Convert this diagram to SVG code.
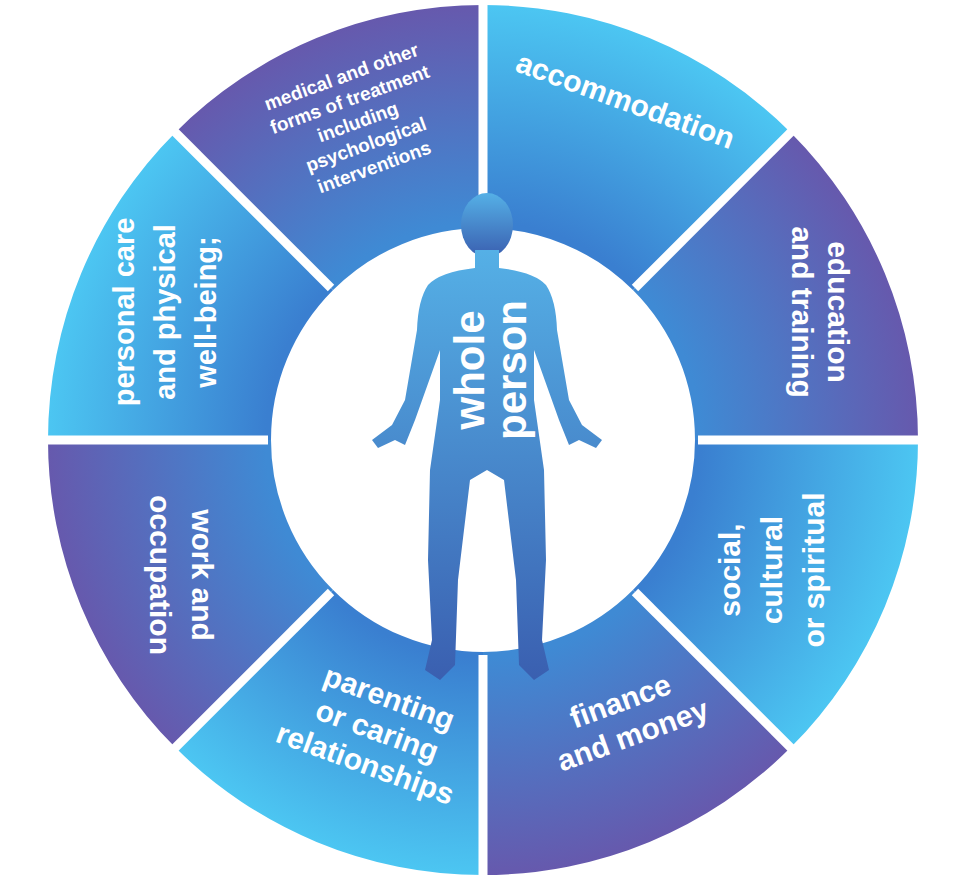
<svg xmlns="http://www.w3.org/2000/svg" width="959" height="894" viewBox="0 0 959 894">
<defs>
<radialGradient id="gl" gradientUnits="userSpaceOnUse" cx="483" cy="440" r="435"><stop offset="0.5" stop-color="#3a7fd0"/><stop offset="1" stop-color="#4cc6f2"/></radialGradient>
<radialGradient id="gd" gradientUnits="userSpaceOnUse" cx="483" cy="440" r="435"><stop offset="0.5" stop-color="#3f8ad4"/><stop offset="1" stop-color="#6659ad"/></radialGradient>
<linearGradient id="gb" x1="0" y1="0" x2="0" y2="1"><stop offset="0" stop-color="#55b0e6"/><stop offset="1" stop-color="#3a5fb0"/></linearGradient>
</defs>
<style>
.t{font-family:"Liberation Sans",Arial,sans-serif;font-weight:bold;fill:#fff;font-size:30px;text-anchor:middle}
.s{font-size:19px}
.sep{stroke:#fff;stroke-width:9}
</style>
<rect width="959" height="894" fill="#fff"/>
<g id="seg-medical"><path d="M175.4,132.4 A435,435 0 0 1 483,5 L483,228 A212,212 0 0 0 333.1,290.1 Z" fill="url(#gd)"/>
<text class="t s" transform="translate(360,128) rotate(-20)"><tspan x="0" y="-48">medical and other</tspan><tspan x="0" y="-24">forms of treatment</tspan><tspan x="0" y="0">including</tspan><tspan x="0" y="24">psychological</tspan><tspan x="0" y="48">interventions</tspan></text></g>
<g id="seg-accommodation"><path d="M483,5 A435,435 0 0 1 790.6,132.4 L632.9,290.1 A212,212 0 0 0 483,228 Z" fill="url(#gl)"/>
<text class="t" transform="translate(622,110) rotate(20)">accommodation</text></g>
<g id="seg-education"><path d="M790.6,132.4 A435,435 0 0 1 918,440 L695,440 A212,212 0 0 0 632.9,290.1 Z" fill="url(#gd)"/>
<text class="t" transform="translate(810,312) rotate(90)"><tspan x="0" y="-18">education</tspan><tspan x="0" y="18">and training</tspan></text></g>
<g id="seg-social"><path d="M918,440 A435,435 0 0 1 790.6,747.6 L632.9,589.9 A212,212 0 0 0 695,440 Z" fill="url(#gl)"/>
<text class="t" transform="translate(770,570) rotate(-90)"><tspan x="0" y="-30">social,</tspan><tspan x="0" y="12">cultural</tspan><tspan x="0" y="54">or spiritual</tspan></text></g>
<g id="seg-finance"><path d="M790.6,747.6 A435,435 0 0 1 483,875 L483,652 A212,212 0 0 0 632.9,589.9 Z" fill="url(#gd)"/>
<text class="t" transform="translate(628,722) rotate(-20)"><tspan x="0" y="-12">finance</tspan><tspan x="0" y="24">and money</tspan></text></g>
<g id="seg-parenting"><path d="M483,875 A435,435 0 0 1 175.4,747.6 L333.1,589.9 A212,212 0 0 0 483,652 Z" fill="url(#gl)"/>
<text class="t" transform="translate(372,745) rotate(20)"><tspan x="0" y="-40">parenting</tspan><tspan x="0" y="-5">or caring</tspan><tspan x="0" y="30">relationships</tspan></text></g>
<g id="seg-work"><path d="M175.4,747.6 A435,435 0 0 1 48,440 L271,440 A212,212 0 0 0 333.1,589.9 Z" fill="url(#gd)"/>
<text class="t" transform="translate(170,575) rotate(90)"><tspan x="0" y="-22">work and</tspan><tspan x="0" y="20">occupation</tspan></text></g>
<g id="seg-personal"><path d="M48,440 A435,435 0 0 1 175.4,132.4 L333.1,290.1 A212,212 0 0 0 271,440 Z" fill="url(#gl)"/>
<text class="t" style="font-size:29px" transform="translate(170,312) rotate(-90)"><tspan x="0" y="-36">personal care</tspan><tspan x="0" y="5">and physical</tspan><tspan x="0" y="46">well-being;</tspan></text></g>
<g id="connectors">
<line class="sep" x1="483" y1="225" x2="483" y2="-10"/>
<line class="sep" x1="635" y1="288" x2="815" y2="108"/>
<line class="sep" x1="698" y1="440" x2="953" y2="440"/>
<line class="sep" x1="635" y1="592" x2="815" y2="772"/>
<line class="sep" x1="483" y1="655" x2="483" y2="910"/>
<line class="sep" x1="331" y1="592" x2="151" y2="772"/>
<line class="sep" x1="268" y1="440" x2="13" y2="440"/>
<line class="sep" x1="331" y1="288" x2="151" y2="108"/>
</g>
<g id="whole-person">
<ellipse cx="487" cy="225" rx="26" ry="32" fill="url(#gb)"/>
<path fill="url(#gb)" d="M475,250 L475,268 Q440,272 428,285 Q418,300 417,330 L405,400 L392,425 L372,440 L378,448 L395,440 L405,445 L415,420 L440,350 L440,400 L430,470 L428,560 L432,640 L425,670 L440,680 L455,665 L458,580 L470,480 L487,470 L504,480 L516,580 L519,665 L534,680 L549,670 L542,640 L546,560 L544,470 L534,400 L534,350 L559,420 L569,445 L579,440 L596,448 L602,440 L582,425 L569,400 L557,330 Q556,300 546,285 Q534,272 499,268 L499,250 Z"/>
<text class="t" style="font-size:42px" transform="translate(492,370) rotate(-90)"><tspan x="0" y="-8">whole</tspan><tspan x="0" y="34">person</tspan></text>
</g>
</svg>
